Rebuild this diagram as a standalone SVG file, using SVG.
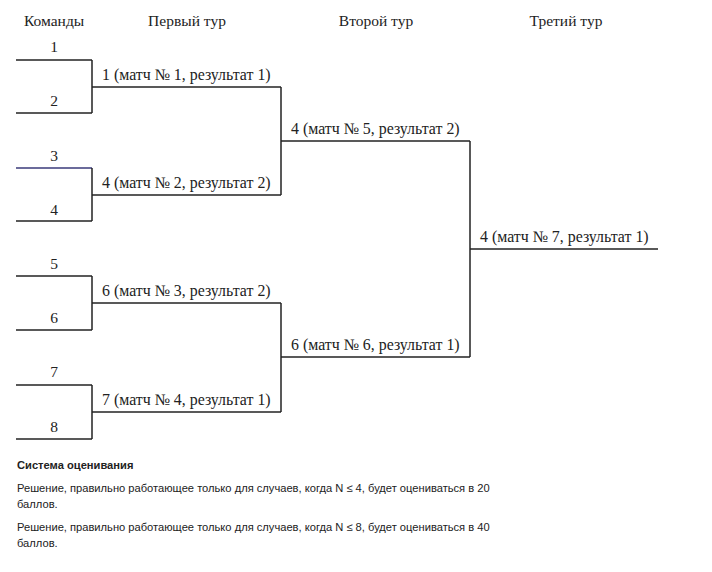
<svg xmlns="http://www.w3.org/2000/svg" width="712" height="572" viewBox="0 0 712 572">
<style>
.h{font-family:"Liberation Serif","Times New Roman",serif;font-size:15.5px;fill:#222}
.t{font-family:"Liberation Serif","Times New Roman",serif;font-size:15.5px;fill:#222;text-anchor:middle}
.m{font-family:"Liberation Serif","Times New Roman",serif;font-size:15.9px;fill:#222}
.s{font-family:"Liberation Sans",Arial,sans-serif;font-size:11.15px;fill:#222}
.l{fill:none;stroke:#222;stroke-width:1.5}
</style>
<rect width="712" height="572" fill="#fff"/>
<g id="headers">
<text class="h" x="24" y="26">Команды</text>
<text class="t" x="187" y="26">Первый тур</text>
<text class="t" x="376" y="26">Второй тур</text>
<text class="t" x="566" y="26">Третий тур</text>
</g>
<g id="teams">
<g id="team1"><path class="l" d="M16 60H92"/><text class="t" x="54" y="52">1</text></g>
<g id="team2"><path class="l" d="M16 113H92"/><text class="t" x="54" y="106">2</text></g>
<g id="team3"><path class="l" d="M16 168H92" style="stroke:#3a3a7a"/><text class="t" x="54" y="161">3</text></g>
<g id="team4"><path class="l" d="M16 221H92"/><text class="t" x="54" y="215">4</text></g>
<g id="team5"><path class="l" d="M16 276H92"/><text class="t" x="54" y="269">5</text></g>
<g id="team6"><path class="l" d="M16 330H92"/><text class="t" x="54" y="323">6</text></g>
<g id="team7"><path class="l" d="M16 385H92"/><text class="t" x="54" y="377">7</text></g>
<g id="team8"><path class="l" d="M16 439H92"/><text class="t" x="54" y="432">8</text></g>
</g>
<g id="connectors">
<path class="l" d="M92 60V113"/>
<path class="l" d="M92 168V221"/>
<path class="l" d="M92 276V330"/>
<path class="l" d="M92 385V439"/>
<path class="l" d="M281 87V195"/>
<path class="l" d="M281 303V412"/>
<path class="l" d="M470 141V357"/>
</g>
<g id="matches">
<g id="match1"><path class="l" d="M92 87H281"/><text class="m" x="102" y="80">1 (матч № 1, результат 1)</text></g>
<g id="match2"><path class="l" d="M92 195H281"/><text class="m" x="102" y="188">4 (матч № 2, результат 2)</text></g>
<g id="match3"><path class="l" d="M92 303H281"/><text class="m" x="102" y="296">6 (матч № 3, результат 2)</text></g>
<g id="match4"><path class="l" d="M92 412H281"/><text class="m" x="102" y="405">7 (матч № 4, результат 1)</text></g>
<g id="match5"><path class="l" d="M281 141H470"/><text class="m" x="291" y="134">4 (матч № 5, результат 2)</text></g>
<g id="match6"><path class="l" d="M281 357H470"/><text class="m" x="291" y="350">6 (матч № 6, результат 1)</text></g>
<g id="match7"><path class="l" d="M470 249H658"/><text class="m" x="480" y="242">4 (матч № 7, результат 1)</text></g>
</g>
<g id="notes">
<text class="s" x="17" y="469" font-weight="bold">Система оценивания</text>
<text class="s" x="17" y="492">Решение, правильно работающее только для случаев, когда N ≤ 4, будет оцениваться в 20</text>
<text class="s" x="17" y="508">баллов.</text>
<text class="s" x="17" y="531">Решение, правильно работающее только для случаев, когда N ≤ 8, будет оцениваться в 40</text>
<text class="s" x="17" y="547">баллов.</text>
</g>
</svg>
